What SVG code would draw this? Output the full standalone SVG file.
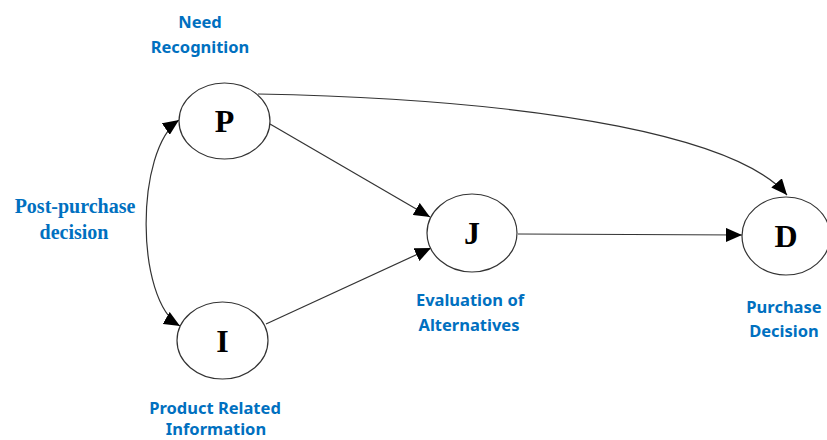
<svg xmlns="http://www.w3.org/2000/svg" width="827" height="440" viewBox="0 0 827 440">
<style>
.node ellipse{fill:#fff;stroke:#333;stroke-width:1.2}
.node text{font-family:"Liberation Serif","Times New Roman",serif;font-weight:bold;font-size:32px;fill:#000;text-anchor:middle}
.lbl{font-family:"Noto Sans","Open Sans",sans-serif;font-weight:bold;font-size:16.5px;fill:#0070C0;text-anchor:middle}
.lbls{font-family:"Liberation Serif","Times New Roman",serif;font-weight:bold;font-size:20px;fill:#0070C0;text-anchor:middle}
.edge{fill:none;stroke:#333;stroke-width:1.2}
</style>
<defs>
<marker id="ah" markerUnits="userSpaceOnUse" markerWidth="18" markerHeight="14" refX="16" refY="7" orient="auto-start-reverse">
<path d="M0,0 L16,7 L0,14 Z" fill="#000"/>
</marker>
</defs>
<g id="connectors">
<path class="edge" d="M270,124 L430,217" marker-end="url(#ah)"/>
<path class="edge" d="M266,324 L431,248" marker-end="url(#ah)"/>
<path class="edge" d="M518,234 L742,235" marker-end="url(#ah)"/>
<path class="edge" d="M258,94 C560,100 740,140 787,195" marker-end="url(#ah)"/>
<path class="edge" d="M179,120 C135,150 135,300 180,326" marker-start="url(#ah)" marker-end="url(#ah)"/>
</g>
<g id="node-P" class="node"><ellipse cx="224.5" cy="121" rx="45.5" ry="38"/><text x="224.5" y="132">P</text></g>
<g id="node-I" class="node"><ellipse cx="222.5" cy="340.5" rx="45.5" ry="38.5"/><text x="222.5" y="352">I</text></g>
<g id="node-J" class="node"><ellipse cx="472" cy="233" rx="45" ry="39"/><text x="472" y="244">J</text></g>
<g id="node-D" class="node"><ellipse cx="786" cy="236" rx="44" ry="39"/><text x="786" y="247">D</text></g>
<g id="labels">
<text class="lbl" x="200" y="28">Need</text>
<text class="lbl" x="200" y="53">Recognition</text>
<text class="lbls" x="75" y="213">Post-purchase</text>
<text class="lbls" x="74" y="239">decision</text>
<text class="lbl" x="215" y="414">Product Related</text>
<text class="lbl" x="216" y="435">Information</text>
<text class="lbl" x="470" y="306">Evaluation of</text>
<text class="lbl" x="469" y="331">Alternatives</text>
<text class="lbl" x="784" y="313">Purchase</text>
<text class="lbl" x="784" y="337">Decision</text>
</g>
</svg>
